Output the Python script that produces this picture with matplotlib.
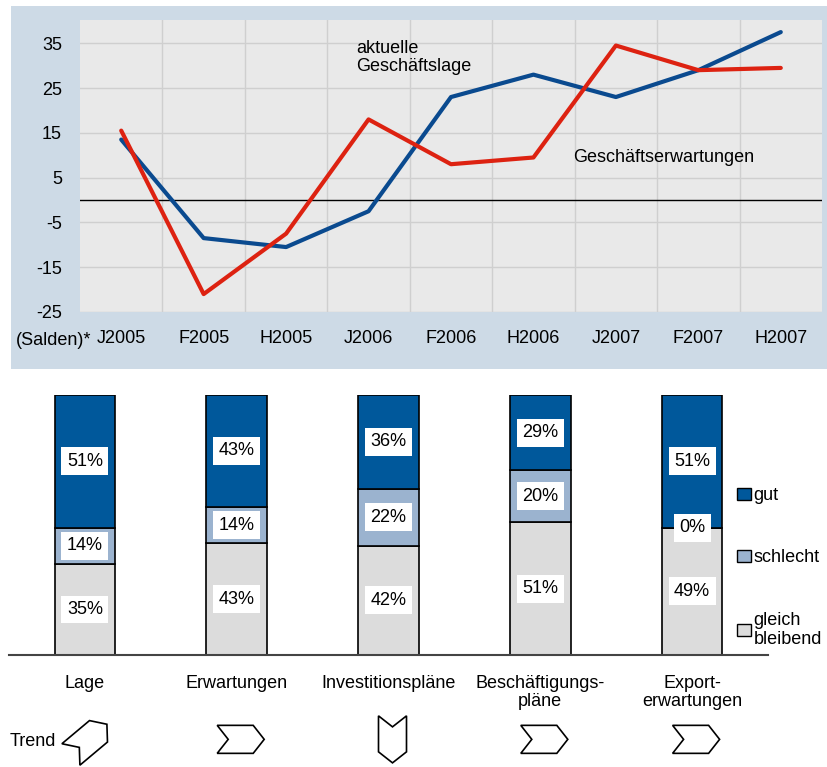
import matplotlib.pyplot as plt
import numpy as np
from matplotlib.patches import Polygon, Patch

plt.rcParams['font.family'] = ['Liberation Sans', 'DejaVu Sans']
plt.rcParams['axes.unicode_minus'] = False

# top chart: Salden
perioden = ['J2005', 'F2005', 'H2005', 'J2006', 'F2006', 'H2006', 'J2007', 'F2007', 'H2007']
lage = [13.5, -8.5, -10.5, -2.5, 23, 28, 23, 29, 37.5]
erwartungen = [15.5, -21, -7.5, 18, 8, 9.5, 34.5, 29, 29.5]
yticks = [-25, -15, -5, 5, 15, 25, 35]

# bottom chart: Anteile
kategorien = ['Lage', 'Erwartungen', 'Investitionspläne', 'Beschäftigungs-\npläne', 'Export-\nerwartungen']
gleich = [35, 43, 42, 51, 49]
schlecht = [14, 14, 22, 20, 0]
gut = [51, 43, 36, 29, 51]
trend_winkel = [40, 0, -90, 0, 0]  # Richtung der Pfeile in Grad

W, H = 827, 767
FS = 13
fig = plt.figure(figsize=(W / 100, H / 100), dpi=100)


def box(x0, y0, x1, y1):
    # pixel box (top-left origin) -> figure rect
    return [x0 / W, 1 - y1 / H, (x1 - x0) / W, (y1 - y0) / H]


# blue-gray panel behind the line chart
bg = fig.add_axes(box(11, 6, 827, 369), zorder=-1)
bg.set_facecolor('#cddae6')
bg.set_xticks([])
bg.set_yticks([])
for s in bg.spines.values():
    s.set_visible(False)

ax = fig.add_axes(box(80, 20, 822, 312))
ax.set_facecolor('#e9e9e9')
x = np.arange(len(perioden))
ax.plot(x, lage, color='#0a4a8f', lw=3, solid_capstyle='round', zorder=3)
ax.plot(x, erwartungen, color='#dd2211', lw=3, solid_capstyle='round', zorder=4)
ax.axhline(0, color='black', lw=1, zorder=2)
ax.set_xlim(-0.5, len(perioden) - 0.5)
ax.set_ylim(-25, 40.2)
ax.set_yticks(yticks)
ax.set_xticks(x)
ax.set_xticklabels(perioden)
ax.set_xticks(np.arange(0.5, len(perioden) - 0.5), minor=True)
ax.tick_params(axis='both', which='both', length=0, labelsize=FS)
ax.tick_params(axis='x', pad=13)
ax.tick_params(axis='y', pad=13)
ax.grid(axis='y', color='#cfcfcf', lw=1)
ax.grid(axis='x', which='minor', color='#cfcfcf', lw=1)
for s in ax.spines.values():
    s.set_visible(False)
ax.text(2.85, 31.8, 'aktuelle\nGeschäftslage', fontsize=FS, va='center', ha='left', linespacing=1.1)
ax.text(5.48, 9.6, 'Geschäftserwartungen', fontsize=FS, va='center', ha='left')
fig.text(16 / W, 1 - 341 / H, '(Salden)*', fontsize=FS, va='center', ha='left')

# stacked bars
bx = fig.add_axes(box(9, 395, 768, 655))
xb = np.arange(len(kategorien))
bw = 0.4
c_gut, c_schlecht, c_gleich = '#00589b', '#9bb3cf', '#dcdcdc'
bx.bar(xb, gleich, bw, color=c_gleich, edgecolor='black', lw=1.2)
bx.bar(xb, schlecht, bw, bottom=gleich, color=c_schlecht, edgecolor='black', lw=1.2)
bx.bar(xb, gut, bw, bottom=np.add(gleich, schlecht), color=c_gut, edgecolor='black', lw=1.2)
bx.set_xlim(-0.5, len(kategorien) - 0.5)
bx.set_ylim(0, 100)
for s in ['top', 'left', 'right']:
    bx.spines[s].set_visible(False)
bx.spines['bottom'].set_color('#444444')
bx.spines['bottom'].set_linewidth(1.5)
bx.set_yticks([])
bx.set_xticks([])

lab_box = dict(boxstyle='square,pad=0.3', fc='white', ec='none')
for i in range(len(kategorien)):
    parts = [(gleich[i], 0), (schlecht[i], gleich[i]), (gut[i], gleich[i] + schlecht[i])]
    for v, b in parts:
        yc = b + v / 2 if v > 0 else b
        bx.text(xb[i], yc, f'{v}%', fontsize=FS, ha='center', va='center', bbox=lab_box, zorder=5)
    bx.text(xb[i], -7.5, kategorien[i], fontsize=FS, ha='center', va='top', linespacing=1.1)

handles = [Patch(fc=c_gut, ec='black'), Patch(fc=c_schlecht, ec='black'), Patch(fc=c_gleich, ec='black')]
fig.legend(handles, ['gut', 'schlecht', 'gleich\nbleibend'], loc='upper left',
           bbox_to_anchor=(721 / W, 1 - 471 / H), frameon=False, fontsize=FS,
           handlelength=0.75, handleheight=0.7, handletextpad=0.15, labelspacing=2.5)

# trend arrows, drawn in pixel offsets around each centre
tx = fig.add_axes(box(9, 710, 768, 767))
tx.set_xlim(-0.5, len(kategorien) - 0.5)
tx.set_ylim(-1, 1)
tx.axis('off')
fig.text(10 / W, 1 - 742 / H, 'Trend', fontsize=FS, va='center', ha='left')
px_x = (768 - 9) / len(kategorien)   # pixels per x unit
px_y = (767 - 710) / 2               # pixels per y unit
L, B, d = 47, 28, 11                 # chevron length, breadth, tip depth (px)
chevron = np.array([[-L / 2, B / 2], [L / 2 - d, B / 2], [L / 2, 0],
                    [L / 2 - d, -B / 2], [-L / 2, -B / 2], [-L / 2 + d, 0]])
for i, ang in enumerate(trend_winkel):
    t = np.deg2rad(ang)
    rot = np.array([[np.cos(t), -np.sin(t)], [np.sin(t), np.cos(t)]])
    pts = chevron @ rot.T + [4, 2]
    pts = np.column_stack([xb[i] + pts[:, 0] / px_x, pts[:, 1] / px_y - 0.1])
    tx.add_patch(Polygon(pts, closed=True, fc='white', ec='black', lw=1.2, clip_on=False))

fig.savefig('out.png', dpi=100)
